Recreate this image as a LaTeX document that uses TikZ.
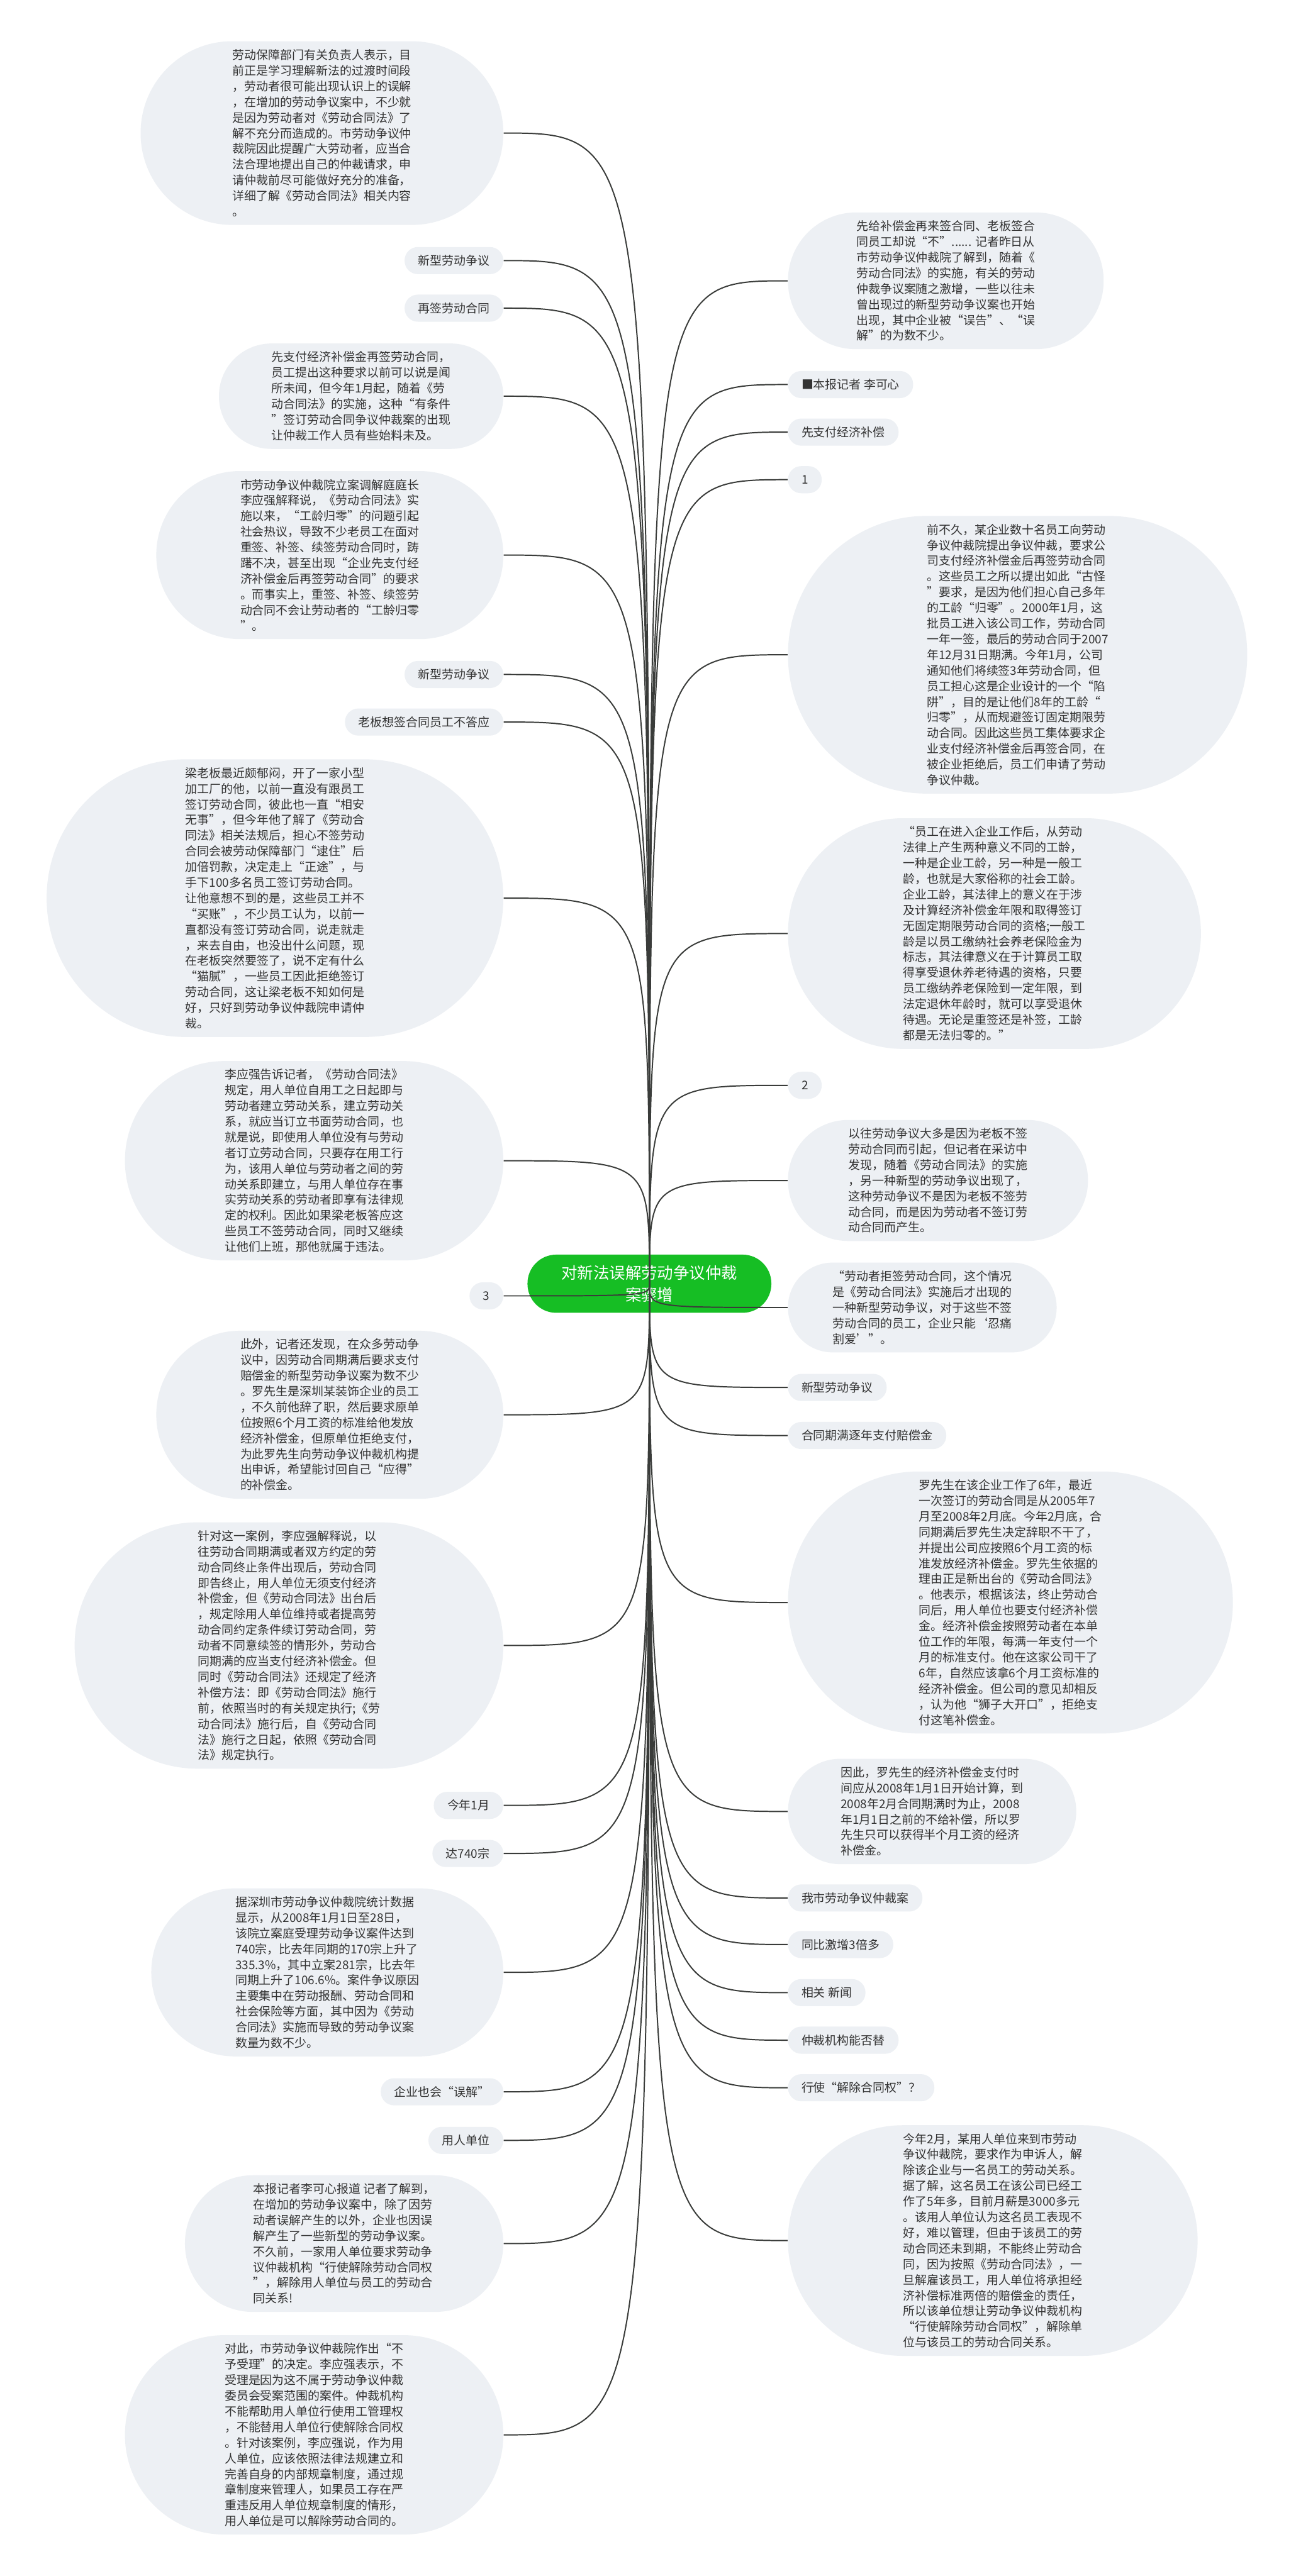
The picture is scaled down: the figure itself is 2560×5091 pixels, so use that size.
\documentclass[tikz,border=0pt]{standalone}
\usepackage{fontspec}
\setmainfont{Noto Sans CJK SC}
\definecolor{ink}{RGB}{51,51,51}
\definecolor{soft}{RGB}{237,240,244}
\definecolor{gd}{RGB}{22,190,36}
\definecolor{wire}{RGB}{58,60,58}
\tikzset{
  % #1 = number of text lines, the ends are half circles
  bubble/.style={rectangle,fill=soft,inner ysep=0pt,
    minimum height={(#1-1)*8.8pt+15.24pt},
    inner xsep={(#1-1)*4.4pt+7.62pt},
    rounded corners={(#1-1)*4.4pt+7.5pt},
    font=\fontsize{6.7pt}{8.8pt}\selectfont,text=ink,align=left},
  bubble/.default=1,
  root/.style={rectangle,fill=gd,inner xsep=19pt,inner ysep=0pt,
    minimum height=32.7pt,rounded corners=16.2pt,
    font=\fontsize{9pt}{12.2pt}\selectfont,text=white,align=center},
  link/.style={draw=wire,line width=0.7pt},
}
\begin{document}
\begin{tikzpicture}[x=0.01cm,y=-0.01cm]
  \fill[white] (0,0) rectangle (2560,5091);
  \useasboundingbox (0,0) rectangle (2560,5091);

  % centre
  \node[root] (root) at (1283,2537) {对新法误解劳动争议仲裁\\案骤增};

  % left branches
  \node[bubble=11,anchor=east] (l1) at (995,263)
    {劳动保障部门有关负责人表示，目\\前正是学习理解新法的过渡时间段\\，劳动者很可能出现认识上的误解\\，在增加的劳动争议案中，不少就\\是因为劳动者对《劳动合同法》了\\解不充分而造成的。市劳动争议仲\\裁院因此提醒广大劳动者，应当合\\法合理地提出自己的仲裁请求，申\\请仲裁前尽可能做好充分的准备，\\详细了解《劳动合同法》相关内容\\。};
  \node[bubble,anchor=east] (l2) at (995,515) {新型劳动争议};
  \node[bubble,anchor=east] (l3) at (995,609) {再签劳动合同};
  \node[bubble=6,anchor=east] (l4) at (995,783)
    {先支付经济补偿金再签劳动合同，\\员工提出这种要求以前可以说是闻\\所未闻，但今年1月起，随着《劳\\动合同法》的实施，这种“有条件\\”签订劳动合同争议仲裁案的出现\\让仲裁工作人员有些始料未及。};
  \node[bubble=10,anchor=east] (l5) at (995,1097)
    {市劳动争议仲裁院立案调解庭庭长\\李应强解释说，《劳动合同法》实\\施以来，“工龄归零”的问题引起\\社会热议，导致不少老员工在面对\\重签、补签、续签劳动合同时，踌\\躇不决，甚至出现“企业先支付经\\济补偿金后再签劳动合同”的要求\\。而事实上，重签、补签、续签劳\\动合同不会让劳动者的“工龄归零\\”。};
  \node[bubble,anchor=east] (l6) at (995,1333) {新型劳动争议};
  \node[bubble,anchor=east] (l7) at (995,1427) {老板想签合同员工不答应};
  \node[bubble=17,anchor=east] (l8) at (995,1775)
    {梁老板最近颇郁闷，开了一家小型\\加工厂的他，以前一直没有跟员工\\签订劳动合同，彼此也一直“相安\\无事”，但今年他了解了《劳动合\\同法》相关法规后，担心不签劳动\\合同会被劳动保障部门“逮住”后\\加倍罚款，决定走上“正途”，与\\手下100多名员工签订劳动合同。\\让他意想不到的是，这些员工并不\\“买账”，不少员工认为，以前一\\直都没有签订劳动合同，说走就走\\，来去自由，也没出什么问题，现\\在老板突然要签了，说不定有什么\\“猫腻”，一些员工因此拒绝签订\\劳动合同，这让梁老板不知如何是\\好，只好到劳动争议仲裁院申请仲\\裁。};
  \node[bubble=12,anchor=east] (l9) at (995,2294)
    {李应强告诉记者，《劳动合同法》\\规定，用人单位自用工之日起即与\\劳动者建立劳动关系，建立劳动关\\系，就应当订立书面劳动合同，也\\就是说，即使用人单位没有与劳动\\者订立劳动合同，只要存在用工行\\为，该用人单位与劳动者之间的劳\\动关系即建立，与用人单位存在事\\实劳动关系的劳动者即享有法律规\\定的权利。因此如果梁老板答应这\\些员工不签劳动合同，同时又继续\\让他们上班，那他就属于违法。};
  \node[bubble,anchor=east] (l10) at (995,2561) {3};
  \node[bubble=10,anchor=east] (l11) at (995,2796)
    {此外，记者还发现，在众多劳动争\\议中，因劳动合同期满后要求支付\\赔偿金的新型劳动争议案为数不少\\。罗先生是深圳某装饰企业的员工\\，不久前他辞了职，然后要求原单\\位按照6个月工资的标准给他发放\\经济补偿金，但原单位拒绝支付，\\为此罗先生向劳动争议仲裁机构提\\出申诉，希望能讨回自己“应得”\\的补偿金。};
  \node[bubble=15,anchor=east] (l12) at (995,3252)
    {针对这一案例，李应强解释说，以\\往劳动合同期满或者双方约定的劳\\动合同终止条件出现后，劳动合同\\即告终止，用人单位无须支付经济\\补偿金，但《劳动合同法》出台后\\，规定除用人单位维持或者提高劳\\动合同约定条件续订劳动合同，劳\\动者不同意续签的情形外，劳动合\\同期满的应当支付经济补偿金。但\\同时《劳动合同法》还规定了经济\\补偿方法：即《劳动合同法》施行\\前，依照当时的有关规定执行;《劳\\动合同法》施行后，自《劳动合同\\法》施行之日起，依照《劳动合同\\法》规定执行。};
  \node[bubble,anchor=east] (l13) at (995,3568) {今年1月};
  \node[bubble,anchor=east] (l14) at (995,3663) {达740宗};
  \node[bubble=10,anchor=east] (l15) at (995,3898)
    {据深圳市劳动争议仲裁院统计数据\\显示，从2008年1月1日至28日，\\该院立案庭受理劳动争议案件达到\\740宗，比去年同期的170宗上升了\\335.3\%，其中立案281宗，比去年\\同期上升了106.6\%。案件争议原因\\主要集中在劳动报酬、劳动合同和\\社会保险等方面，其中因为《劳动\\合同法》实施而导致的劳动争议案\\数量为数不少。};
  \node[bubble,anchor=east] (l16) at (995,4134) {企业也会“误解”};
  \node[bubble,anchor=east] (l17) at (995,4230) {用人单位};
  \node[bubble=8,anchor=east] (l18) at (995,4434)
    {本报记者李可心报道 记者了解到，\\在增加的劳动争议案中，除了因劳\\动者误解产生的以外，企业也因误\\解产生了一些新型的劳动争议案。\\不久前，一家用人单位要求劳动争\\议仲裁机构“行使解除劳动合同权\\”，解除用人单位与员工的劳动合\\同关系!};
  \node[bubble=12,anchor=east] (l19) at (995,4812)
    {对此，市劳动争议仲裁院作出“不\\予受理”的决定。李应强表示，不\\受理是因为这不属于劳动争议仲裁\\委员会受案范围的案件。仲裁机构\\不能帮助用人单位行使用工管理权\\，不能替用人单位行使解除合同权\\。针对该案例，李应强说，作为用\\人单位，应该依照法律法规建立和\\完善自身的内部规章制度，通过规\\章制度来管理人，如果员工存在严\\重违反用人单位规章制度的情形，\\用人单位是可以解除劳动合同的。};

  % right branches
  \node[bubble=8,anchor=west] (r1) at (1556,555)
    {先给补偿金再来签合同、老板签合\\同员工却说“不”...... 记者昨日从\\市劳动争议仲裁院了解到，随着《\\劳动合同法》的实施，有关的劳动\\仲裁争议案随之激增，一些以往未\\曾出现过的新型劳动争议案也开始\\出现，其中企业被“误告”、“误\\解”的为数不少。};
  \node[bubble,anchor=west] (r2) at (1556,760) {■本报记者 李可心};
  \node[bubble,anchor=west] (r3) at (1556,854) {先支付经济补偿};
  \node[bubble,anchor=west] (r4) at (1556,948) {1};
  \node[bubble=17,anchor=west] (r5) at (1556,1294)
    {前不久，某企业数十名员工向劳动\\争议仲裁院提出争议仲裁，要求公\\司支付经济补偿金后再签劳动合同\\。这些员工之所以提出如此“古怪\\”要求，是因为他们担心自己多年\\的工龄“归零”。2000年1月，这\\批员工进入该公司工作，劳动合同\\一年一签，最后的劳动合同于2007\\年12月31日期满。今年1月，公司\\通知他们将续签3年劳动合同，但\\员工担心这是企业设计的一个“陷\\阱”，目的是让他们8年的工龄“\\归零”，从而规避签订固定期限劳\\动合同。因此这些员工集体要求企\\业支付经济补偿金后再签合同，在\\被企业拒绝后，员工们申请了劳动\\争议仲裁。};
  \node[bubble=14,anchor=west] (r6) at (1556,1845)
    {“员工在进入企业工作后，从劳动\\法律上产生两种意义不同的工龄，\\一种是企业工龄，另一种是一般工\\龄，也就是大家俗称的社会工龄。\\企业工龄，其法律上的意义在于涉\\及计算经济补偿金年限和取得签订\\无固定期限劳动合同的资格;一般工\\龄是以员工缴纳社会养老保险金为\\标志，其法律意义在于计算员工取\\得享受退休养老待遇的资格，只要\\员工缴纳养老保险到一定年限，到\\法定退休年龄时，就可以享受退休\\待遇。无论是重签还是补签，工龄\\都是无法归零的。”};
  \node[bubble,anchor=west] (r7) at (1556,2145) {2};
  \node[bubble=7,anchor=west] (r8) at (1556,2333)
    {以往劳动争议大多是因为老板不签\\劳动合同而引起，但记者在采访中\\发现，随着《劳动合同法》的实施\\，另一种新型的劳动争议出现了，\\这种劳动争议不是因为老板不签劳\\动合同，而是因为劳动者不签订劳\\动合同而产生。};
  \node[bubble=5,anchor=west] (r9) at (1556,2584)
    {“劳动者拒签劳动合同，这个情况\\是《劳动合同法》实施后才出现的\\一种新型劳动争议，对于这些不签\\劳动合同的员工，企业只能‘忍痛\\割爱’”。};
  \node[bubble,anchor=west] (r10) at (1556,2742) {新型劳动争议};
  \node[bubble,anchor=west] (r11) at (1556,2837) {合同期满逐年支付赔偿金};
  \node[bubble=16,anchor=west] (r12) at (1556,3167)
    {罗先生在该企业工作了6年，最近\\一次签订的劳动合同是从2005年7\\月至2008年2月底。今年2月底，合\\同期满后罗先生决定辞职不干了，\\并提出公司应按照6个月工资的标\\准发放经济补偿金。罗先生依据的\\理由正是新出台的《劳动合同法》\\。他表示，根据该法，终止劳动合\\同后，用人单位也要支付经济补偿\\金。经济补偿金按照劳动者在本单\\位工作的年限，每满一年支付一个\\月的标准支付。他在这家公司干了\\6年，自然应该拿6个月工资标准的\\经济补偿金。但公司的意见却相反\\，认为他“狮子大开口”，拒绝支\\付这笔补偿金。};
  \node[bubble=6,anchor=west] (r13) at (1556,3580)
    {因此，罗先生的经济补偿金支付时\\间应从2008年1月1日开始计算，到\\2008年2月合同期满时为止，2008\\年1月1日之前的不给补偿，所以罗\\先生只可以获得半个月工资的经济\\补偿金。};
  \node[bubble,anchor=west] (r14) at (1556,3751) {我市劳动争议仲裁案};
  \node[bubble,anchor=west] (r15) at (1556,3843) {同比激增3倍多};
  \node[bubble,anchor=west] (r16) at (1556,3938) {相关 新闻};
  \node[bubble,anchor=west] (r17) at (1556,4032) {仲裁机构能否替};
  \node[bubble,anchor=west] (r18) at (1556,4126) {行使“解除合同权”？};
  \node[bubble=14,anchor=west] (r19) at (1556,4428)
    {今年2月，某用人单位来到市劳动\\争议仲裁院，要求作为申诉人，解\\除该企业与一名员工的劳动关系。\\据了解，这名员工在该公司已经工\\作了5年多，目前月薪是3000多元\\。该用人单位认为这名员工表现不\\好，难以管理，但由于该员工的劳\\动合同还未到期，不能终止劳动合\\同，因为按照《劳动合同法》，一\\旦解雇该员工，用人单位将承担经\\济补偿标准两倍的赔偿金的责任，\\所以该单位想让劳动争议仲裁机构\\“行使解除劳动合同权”，解除单\\位与该员工的劳动合同关系。};

  % links
  \foreach \n in {l1,l2,l3,l4,l5,l6,l7,l8,l9,l10,l11,l12,l13,l14,l15,l16,l17,l18,l19}
    \draw[link] (root.center) .. controls (root.center |- \n.east) .. (\n.east);
  \foreach \n in {r1,r2,r3,r4,r5,r6,r7,r8,r9,r10,r11,r12,r13,r14,r15,r16,r17,r18,r19}
    \draw[link] (root.center) .. controls (root.center |- \n.west) .. (\n.west);
\end{tikzpicture}
\end{document}
